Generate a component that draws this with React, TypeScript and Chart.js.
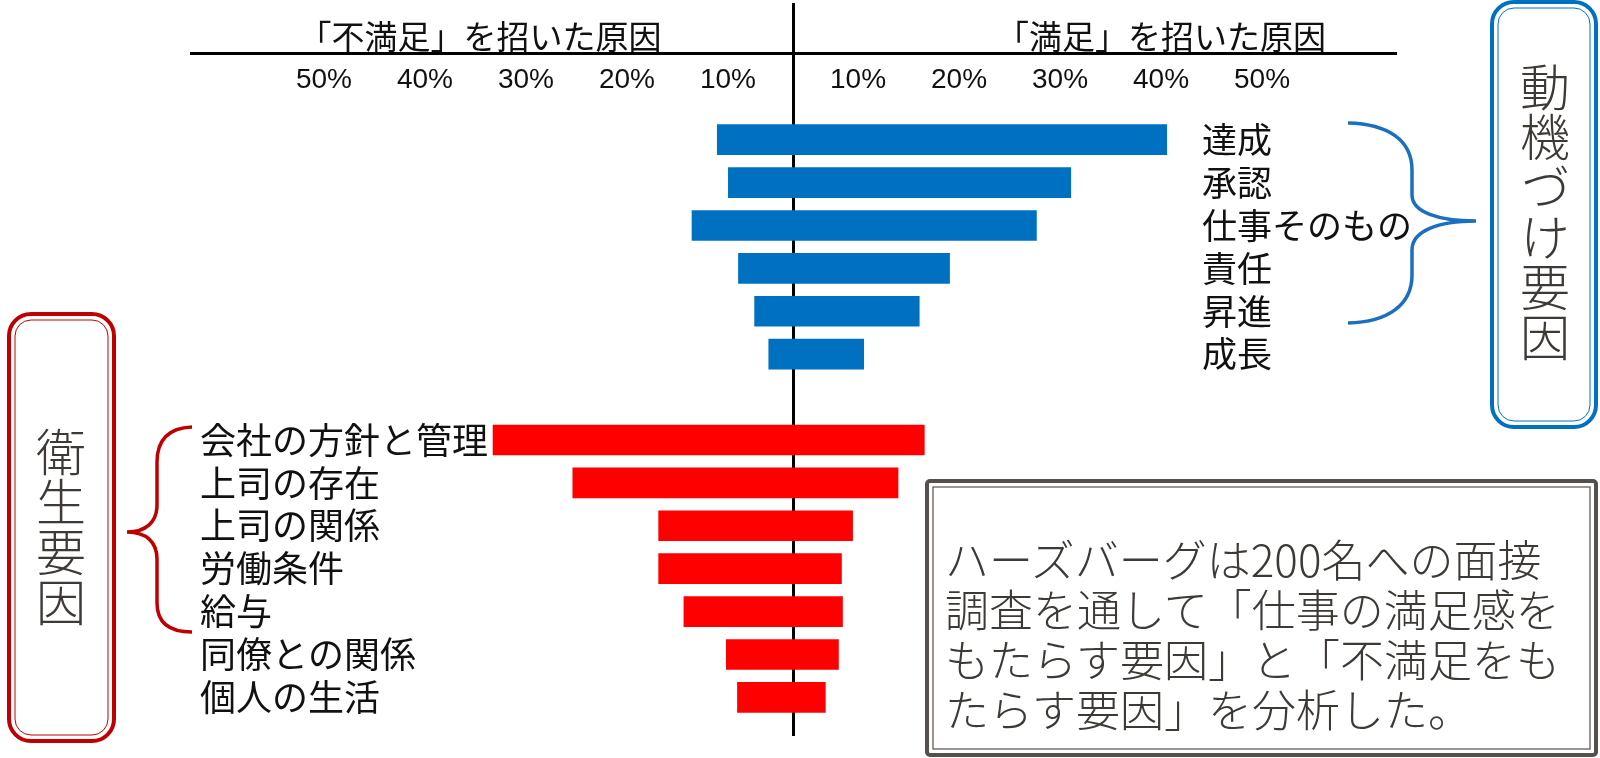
import React, { useEffect, useRef } from 'react';
import { Chart, registerables } from 'chart.js';

Chart.register(...registerables);

// ---- data ----
const motivatorFactors = ['達成', '承認', '仕事そのもの', '責任', '昇進', '成長'];
const motivatorDissatisfaction = [7.5, 6.4, 10.0, 5.4, 3.8, 2.4];
const motivatorSatisfaction = [37.0, 27.5, 24.1, 15.5, 12.5, 7.0];

const hygieneFactors = ['会社の方針と管理', '上司の存在', '上司の関係', '労働条件', '給与', '同僚との関係', '個人の生活'];
const hygieneDissatisfaction = [29.7, 21.8, 13.3, 13.3, 10.8, 6.6, 5.5];
const hygieneSatisfaction = [13.0, 10.4, 5.9, 4.8, 4.9, 4.5, 3.2];

const percentTicks = [10, 20, 30, 40, 50];
const leftTitle = '「不満足」を招いた原因';
const rightTitle = '「満足」を招いた原因';
const motivatorGroupName = '動機づけ要因';
const hygieneGroupName = '衛生要因';
const noteLines = [
  'ハーズバーグは200名への面接',
  '調査を通して「仕事の満足感を',
  'もたらす要因」と「不満足をも',
  'たらす要因」を分析した。',
];

const CJK = "'Noto Sans CJK JP', 'Noto Sans CJK SC', sans-serif";

export default function App() {
  const canvasRef = useRef<HTMLCanvasElement>(null);

  useEffect(() => {
    document.body.style.margin = '0';
    document.body.style.overflow = 'hidden';
    const canvas = canvasRef.current;
    if (!canvas) return;

    const motivatorRows = motivatorFactors.map((_, i) => i);
    const hygieneRows = hygieneFactors.map((_, i) => motivatorFactors.length + 1 + i);
    const rowLabel = (v: number) => {
      const hi = hygieneRows.indexOf(v);
      return hi >= 0 ? hygieneFactors[hi] : '';
    };

    const decor = {
      id: 'decor',
      afterDraw(chart: any) {
        const { ctx } = chart;
        const yScale = chart.scales.y;
        ctx.save();
        ctx.fillStyle = '#111';
        ctx.textBaseline = 'middle';
        ctx.textAlign = 'left';
        ctx.font = `35px ${CJK}`;
        motivatorFactors.forEach((name, i) => {
          ctx.fillText(name, 1202, yScale.getPixelForValue(motivatorRows[i]));
        });
        ctx.textAlign = 'center';
        ctx.font = `33px ${CJK}`;
        ctx.fillText(leftTitle, 480, 36);
        ctx.fillText(rightTitle, 1161, 36);
        ctx.restore();
      },
    };

    const chart = new Chart(canvas, {
      type: 'bar',
      data: {
        datasets: [
          {
            label: motivatorGroupName,
            data: motivatorRows.map((r, i) => ({ y: r, x: [-motivatorDissatisfaction[i], motivatorSatisfaction[i]] })) as any,
            backgroundColor: '#0070c0',
            borderWidth: 0,
            grouped: false,
            barThickness: 30,
            xAxisID: 'x',
            yAxisID: 'y',
          },
          {
            label: hygieneGroupName,
            data: hygieneRows.map((r, i) => ({ y: r, x: [-hygieneDissatisfaction[i], hygieneSatisfaction[i]] })) as any,
            backgroundColor: '#ff0000',
            borderWidth: 0,
            grouped: false,
            barThickness: 30,
            xAxisID: 'x',
            yAxisID: 'y',
          },
        ],
      },
      options: {
        indexAxis: 'y',
        responsive: false,
        animation: false,
        layout: { padding: { left: 173, right: 205, top: 3, bottom: 22 } },
        plugins: { legend: { display: false }, tooltip: { enabled: false }, title: { display: false } },
        scales: {
          x: {
            type: 'linear',
            position: 'top',
            weight: 1,
            min: -59.6,
            max: 59.6,
            offset: false,
            afterBuildTicks: (s: any) => {
              s.ticks = [0, ...percentTicks].map((v) => ({ value: v }));
            },
            afterFit: (s: any) => {
              s.paddingLeft = 0;
              s.paddingRight = 0;
            },
            ticks: {
              mirror: true,
              padding: 0,
              labelOffset: -36,
              autoSkip: false,
              maxRotation: 0,
              minRotation: 0,
              color: '#111',
              font: { family: "'Liberation Sans', Arial, sans-serif", size: 28, lineHeight: 1.93 },
              callback: (v: any) => (Number(v) === 0 ? '' : `${v}%`),
            },
            grid: {
              offset: false,
              color: (c: any) => (c.tick && c.tick.value === 0 ? '#000' : 'rgba(0,0,0,0)'),
              lineWidth: 3,
              drawTicks: true,
              tickLength: 50,
            },
            border: { display: true, color: '#000', width: 3 },
          },
          x2: {
            type: 'linear',
            position: 'top',
            weight: 0,
            min: -59.6,
            max: 59.6,
            offset: false,
            afterBuildTicks: (s: any) => {
              s.ticks = percentTicks.slice().reverse().map((v) => ({ value: -v }));
            },
            afterFit: (s: any) => {
              s.paddingLeft = 0;
              s.paddingRight = 0;
            },
            ticks: {
              mirror: true,
              padding: 0,
              labelOffset: 36,
              autoSkip: false,
              maxRotation: 0,
              minRotation: 0,
              color: '#111',
              font: { family: "'Liberation Sans', Arial, sans-serif", size: 28, lineHeight: 1.93 },
              callback: (v: any) => `${Math.abs(Number(v))}%`,
            },
            grid: { display: false, drawTicks: false },
            border: { display: false },
          },
          y: {
            type: 'linear',
            position: 'left',
            reverse: true,
            offset: false,
            min: -2.02,
            max: 13.9,
            afterBuildTicks: (s: any) => {
              s.ticks = hygieneRows.map((v) => ({ value: v }));
            },
            afterFit: (s: any) => {
              s.paddingTop = 0;
              s.paddingBottom = 0;
            },
            ticks: {
              mirror: true,
              padding: 9,
              autoSkip: false,
              color: '#111',
              font: { family: CJK, size: 36 },
              callback: (v: any) => rowLabel(Number(v)),
            },
            grid: { display: false, drawTicks: false, offset: false },
            border: { display: false },
          },
        },
      } as any,
      plugins: [decor],
    });

    return () => chart.destroy();
  }, []);

  const boxText = '#3d3935';

  return (
    <div style={{ position: 'absolute', left: 0, top: 0, width: 1600, height: 758, overflow: 'hidden', background: '#fff' }}>
      <canvas ref={canvasRef} width={1600} height={758} style={{ display: 'block', position: 'absolute', left: 0, top: 0 }} />
      <svg width={1600} height={758} style={{ position: 'absolute', left: 0, top: 0, pointerEvents: 'none' }}>
        {/* hygiene group box */}
        <rect x={9} y={314} width={105} height={427} rx={22} fill="none" stroke="#c00000" strokeWidth={4} />
        <rect x={15} y={320} width={93} height={415} rx={16} fill="none" stroke="#c00000" strokeWidth={1} />
        {/* motivator group box */}
        <rect x={1492} y={2} width={104} height={425} rx={22} fill="none" stroke="#0070c0" strokeWidth={4} />
        <rect x={1498} y={8} width={92} height={413} rx={16} fill="none" stroke="#0070c0" strokeWidth={1} />
        {/* note box */}
        <rect x={927} y={481} width={669} height={274} rx={3} fill="#fff" stroke="#55504c" strokeWidth={4} />
        <rect x={933} y={487} width={657} height={262} fill="none" stroke="#55504c" strokeWidth={1.2} />
        {/* braces */}
        <path
          d="M192,427 C168,428 157,440 157,462 L157,505 C157,522 146,532 127,532 C146,532 157,542 157,559 L157,603 C157,622 168,632 192,632"
          fill="none"
          stroke="#c00000"
          strokeWidth={3.5}
        />
        <path
          d="M1348,123 C1388,124 1412,140 1412,170 L1412,195 C1412,212 1438,221 1476,221 C1438,221 1412,231 1412,250 L1412,275 C1412,305 1388,322 1348,323"
          fill="none"
          stroke="#1a6fc0"
          strokeWidth={3.5}
        />
      </svg>
      <div
        style={{
          position: 'absolute',
          left: 36,
          top: 427,
          width: 50,
          writingMode: 'vertical-rl',
          fontFamily: CJK,
          fontSize: 50,
          lineHeight: '50px',
          color: boxText,
          fontWeight: 300,
        }}
      >
        {hygieneGroupName}
      </div>
      <div
        style={{
          position: 'absolute',
          left: 1520,
          top: 62,
          width: 50,
          writingMode: 'vertical-rl',
          fontFamily: CJK,
          fontSize: 50,
          lineHeight: '50px',
          color: boxText,
          fontWeight: 300,
        }}
      >
        {motivatorGroupName}
      </div>
      <div
        style={{
          position: 'absolute',
          left: 945,
          top: 533,
          fontFamily: CJK,
          fontSize: 44,
          lineHeight: '50px',
          color: boxText,
          whiteSpace: 'nowrap',
          fontWeight: 300,
        }}
      >
        {noteLines.map((l, i) => (
          <div key={i}>{l}</div>
        ))}
      </div>
    </div>
  );
}
